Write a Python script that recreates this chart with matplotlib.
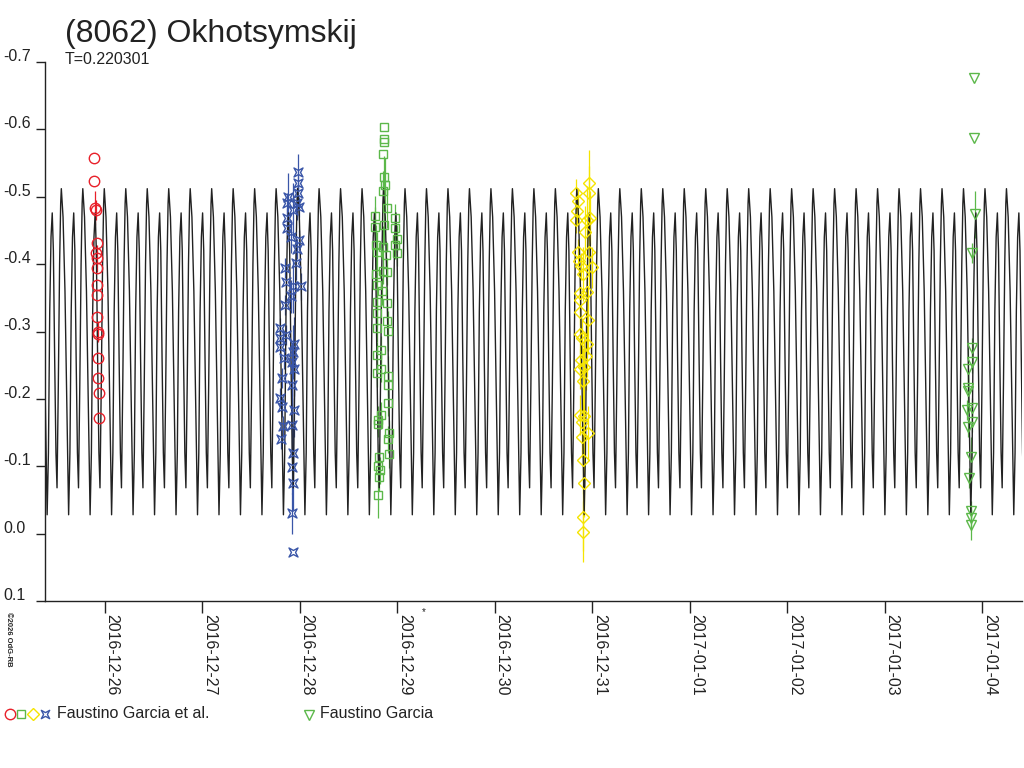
import numpy as np
import matplotlib
matplotlib.use("Agg")
import matplotlib.pyplot as plt
import matplotlib.dates as mdates
import matplotlib.transforms as mtransforms
from matplotlib.path import Path
from datetime import datetime

plt.rcParams['font.family'] = ['Liberation Sans', 'DejaVu Sans']

# times are days since 2016-12-26 00:00 UT, values are relative magnitudes
t_base = datetime(2016, 12, 26)
period = 0.220301

# one cycle of the fitted lightcurve, phase measured from the main maximum
curve_epoch = -0.004
curve_phase = [0.00, 0.08, 0.17, 0.26, 0.34, 0.40, 0.46, 0.52, 0.577, 0.63, 0.69, 0.75, 0.80, 0.86, 0.92, 0.97]
curve_mag = [-0.512, -0.47, -0.36, -0.18, -0.028, -0.12, -0.33, -0.44, -0.476, -0.42, -0.26, -0.12, -0.068, -0.22, -0.40, -0.49]

# Faustino Garcia et al. - session 1 (red circles)
t_red = [-0.107, -0.107, -0.099, -0.092, -0.082, -0.089, -0.082, -0.076, -0.076, -0.076, -0.076,
         -0.066, -0.066, -0.066, -0.066, -0.055, -0.055]
mag_red = [-0.557, -0.524, -0.483, -0.480, -0.432, -0.416, -0.409, -0.394, -0.369, -0.354, -0.322,
           -0.300, -0.297, -0.260, -0.231, -0.208, -0.172]
err_red = [0.0, 0.0, 0.025, 0.015, 0.0, 0.012, 0.02, 0.0, 0.0, 0.0, 0.0,
           0.015, 0.0, 0.0, 0.0, 0.0, 0.0]

# session 2 (blue stars)
t_blue = [1.979, 1.979, 1.979, 1.883, 1.867, 1.969, 1.934, 1.996, 1.867, 1.873, 1.908, 1.996, 1.969, 1.962,
          1.849, 1.859, 1.934, 2.013, 1.911, 1.849, 1.798, 1.859, 1.798, 1.798, 1.945, 1.934, 1.839, 1.918,
          1.942, 1.822, 1.918, 1.798, 1.815, 1.945, 1.832, 1.924, 1.808, 1.928, 1.924, 1.928, 1.924, 1.928]
mag_blue = [-0.537, -0.520, -0.505, -0.500, -0.490, -0.490, -0.480, -0.485, -0.468, -0.453, -0.441, -0.436,
            -0.422, -0.401, -0.394, -0.374, -0.368, -0.367, -0.352, -0.339, -0.305, -0.295, -0.290, -0.277,
            -0.282, -0.270, -0.260, -0.255, -0.244, -0.231, -0.221, -0.201, -0.188, -0.183, -0.159, -0.161,
            -0.141, -0.119, -0.099, -0.075, -0.030, 0.027]
err_blue = [0.026, 0.02, 0.015, 0.035, 0.015, 0.025, 0.04, 0.015, 0.015, 0.015, 0.025, 0.015,
            0.015, 0.025, 0.015, 0.015, 0.04, 0.02, 0.025, 0.015, 0.015, 0.015, 0.015, 0.015,
            0.04, 0.04, 0.015, 0.03, 0.04, 0.015, 0.04, 0.015, 0.015, 0.04, 0.015, 0.04,
            0.015, 0.04, 0.04, 0.04, 0.03, 0.0]

# session 3 (green squares)
t_green = [2.865, 2.865, 2.865, 2.857, 2.868, 2.875, 2.857, 2.892, 2.772, 2.977, 2.772, 2.868, 2.977, 2.995,
           2.783, 2.857, 2.977, 2.995, 2.885, 2.790, 2.857, 2.898, 2.779, 2.790, 2.847, 2.796, 2.898, 2.790,
           2.898, 2.796, 2.902, 2.831, 2.796, 2.834, 2.796, 2.909, 2.909, 2.909, 2.831, 2.800, 2.806, 2.916,
           2.909, 2.916, 2.813, 2.806, 2.824, 2.816, 2.806]
mag_green = [-0.604, -0.585, -0.581, -0.563, -0.530, -0.517, -0.508, -0.484, -0.471, -0.469, -0.455, -0.458,
             -0.453, -0.438, -0.428, -0.426, -0.428, -0.417, -0.414, -0.418, -0.390, -0.389, -0.386, -0.369,
             -0.360, -0.344, -0.343, -0.328, -0.315, -0.305, -0.301, -0.273, -0.265, -0.245, -0.238, -0.234,
             -0.221, -0.194, -0.176, -0.169, -0.163, -0.149, -0.140, -0.118, -0.113, -0.100, -0.094, -0.084,
             -0.058]
err_green = [0.0, 0.0, 0.0, 0.0, 0.03, 0.04, 0.03, 0.03, 0.03, 0.02, 0.03, 0.03,
             0.02, 0.02, 0.03, 0.03, 0.02, 0.02, 0.02, 0.03, 0.02, 0.02, 0.02, 0.02,
             0.02, 0.02, 0.02, 0.02, 0.02, 0.02, 0.03, 0.02, 0.02, 0.02, 0.02, 0.03,
             0.02, 0.02, 0.02, 0.02, 0.02, 0.02, 0.02, 0.02, 0.02, 0.02, 0.02, 0.02,
             0.035]

# session 4 (yellow diamonds)
t_yellow = [4.967, 4.967, 4.834, 4.857, 4.847, 4.977, 4.831, 4.944, 4.926, 4.857, 4.970, 4.868, 4.995,
            4.882, 4.909, 4.875, 4.944, 4.875, 4.875, 4.960, 4.875, 4.892, 4.944, 4.936, 4.882, 4.916,
            4.875, 4.909, 4.875, 4.916, 4.892, 4.955, 4.898, 4.909, 4.916, 4.909, 4.909]
mag_yellow = [-0.520, -0.506, -0.506, -0.493, -0.479, -0.468, -0.466, -0.466, -0.447, -0.418, -0.418,
              -0.404, -0.395, -0.397, -0.386, -0.357, -0.359, -0.347, -0.329, -0.317, -0.297, -0.290,
              -0.282, -0.263, -0.258, -0.248, -0.244, -0.226, -0.176, -0.174, -0.166, -0.149, -0.144,
              -0.109, -0.075, -0.024, -0.003]
err_yellow = [0.05, 0.04, 0.02, 0.02, 0.02, 0.04, 0.02, 0.05, 0.04, 0.02, 0.05, 0.02, 0.03,
              0.02, 0.04, 0.03, 0.05, 0.02, 0.02, 0.05, 0.03, 0.03, 0.05, 0.05, 0.03, 0.05,
              0.03, 0.05, 0.03, 0.05, 0.03, 0.04, 0.03, 0.05, 0.05, 0.05, 0.045]

# Faustino Garcia (green triangles)
t_tri = [8.919, 8.919, 8.926, 8.899, 8.892, 8.899, 8.858, 8.851, 8.858, 8.841, 8.892, 8.892, 8.858,
         8.882, 8.868, 8.882, 8.882, 8.882]
mag_tri = [-0.676, -0.587, -0.474, -0.416, -0.275, -0.254, -0.245, -0.216, -0.211, -0.183, -0.186,
           -0.166, -0.158, -0.114, -0.082, -0.033, -0.023, -0.013]
err_tri = [0.0, 0.0, 0.035, 0.015, 0.015, 0.015, 0.03, 0.03, 0.03, 0.015, 0.015, 0.015, 0.015, 0.03,
           0.015, 0.015, 0.015, 0.022]

y_ticks = [-0.7, -0.6, -0.5, -0.4, -0.3, -0.2, -0.1, 0.0, 0.1]
y_labels = ["-0.7", "-0.6", "-0.5", "-0.4", "-0.3", "-0.2", "-0.1", "0.0", "0.1"]
x_range = (-0.612, 9.408)

c_red = '#e8202a'
c_green = '#5cb84a'
c_yellow = '#f5e400'
c_blue = '#3a56a8'
c_curve = '#222222'

# four-point star used for the blue session
star = Path([(1, 1), (0, 0.45), (-1, 1), (-0.45, 0), (-1, -1), (0, -0.45), (1, -1), (0.45, 0), (1, 1)],
            [Path.MOVETO] + [Path.LINETO] * 7 + [Path.CLOSEPOLY])

base = mdates.date2num(t_base)


def to_num(t):
    return base + np.asarray(t)


fig = plt.figure(figsize=(10.24, 7.68), dpi=100)
ax = fig.add_axes([45 / 1024, (768 - 601) / 768, (1022 - 45) / 1024, (601 - 62) / 768])

# lightcurve model, the one-cycle profile repeated with the period
cycles = np.arange(-4, 46)
t_curve = (curve_epoch + (cycles[:, None] + np.asarray(curve_phase)[None, :]) * period).ravel()
m_curve = np.tile(curve_mag, len(cycles))
ax.plot(to_num(t_curve), m_curve, color=c_curve, lw=1.0, zorder=3)

sessions = [
    (t_red, mag_red, err_red, 'o', c_red, 7.5),
    (t_blue, mag_blue, err_blue, star, c_blue, 6.5),
    (t_green, mag_green, err_green, 's', c_green, 5.5),
    (t_yellow, mag_yellow, err_yellow, 'D', c_yellow, 6.0),
    (t_tri, mag_tri, err_tri, 'v', c_green, 6.5),
]
for t, m, e, mk, c, ms in sessions:
    ax.errorbar(to_num(t), m, yerr=e, fmt='none', ecolor=c, elinewidth=0.9, capsize=0, zorder=2)
    ax.plot(to_num(t), m, ls='none', marker=mk, ms=ms, mfc='none', mec=c, mew=1.0, zorder=4)

ax.set_xlim(base + x_range[0], base + x_range[1])
ax.set_ylim(0.1, -0.7)
ax.set_yticks(y_ticks)
ax.set_yticklabels(y_labels)
ax.xaxis.set_major_locator(mdates.DayLocator())
ax.xaxis.set_major_formatter(mdates.DateFormatter('%Y-%m-%d'))

for s in ['top', 'right']:
    ax.spines[s].set_visible(False)
for s in ['left', 'bottom']:
    ax.spines[s].set_linewidth(1.0)
    ax.spines[s].set_color('#222222')

ax.tick_params(axis='y', direction='out', length=6.5, width=1.0, pad=23.5, labelsize=11.5, colors='#222222')
ax.tick_params(axis='x', direction='out', length=8.5, width=1.0, pad=1, labelsize=11.5, colors='#222222')

up = mtransforms.ScaledTranslation(0, 7 / 100, fig.dpi_scale_trans)
for lab in ax.get_yticklabels():
    lab.set_ha('left')
    lab.set_transform(lab.get_transform() + up)
for lab in ax.get_xticklabels():
    lab.set_rotation(270)
    lab.set_ha('left')
    lab.set_va('top')

# titles
fig.text(65 / 1024, 1 - 42 / 768, "(8062) Okhotsymskij", fontsize=23, color='#222222', va='baseline')
fig.text(65 / 1024, 1 - 64 / 768, "T=0.220301", fontsize=11.5, color='#222222', va='baseline')
fig.text(5 / 1024, 1 - 612 / 768, "\u00a92026 OdG-RB", fontsize=5.5, rotation=270, ha='left', va='top',
         color='#222222', fontweight='bold')
fig.text(424 / 1024, 1 - 612 / 768, "*", fontsize=7, ha='center', va='center', color='#222222')

# legend drawn in figure pixel coordinates
leg = fig.add_axes([0, 0, 1, 1], facecolor='none')
leg.set_xlim(0, 1024)
leg.set_ylim(768, 0)
leg.axis('off')
leg_items = [(9.5, 'o', c_red, 7.5), (21.3, 's', c_green, 5.5), (33.3, 'D', c_yellow, 6.0), (45, star, c_blue, 6.0)]
for lx, mk, c, ms in leg_items:
    leg.plot([lx], [714], ls='none', marker=mk, ms=ms, mfc='none', mec=c, mew=1.0)
leg.text(57, 713, "Faustino Garcia et al.", fontsize=11.5, va='center', ha='left', color='#222222')
leg.plot([309.3], [715], ls='none', marker='v', ms=6.5, mfc='none', mec=c_green, mew=1.0)
leg.text(320, 713, "Faustino Garcia", fontsize=11.5, va='center', ha='left', color='#222222')

fig.savefig("out.png", dpi=100)
